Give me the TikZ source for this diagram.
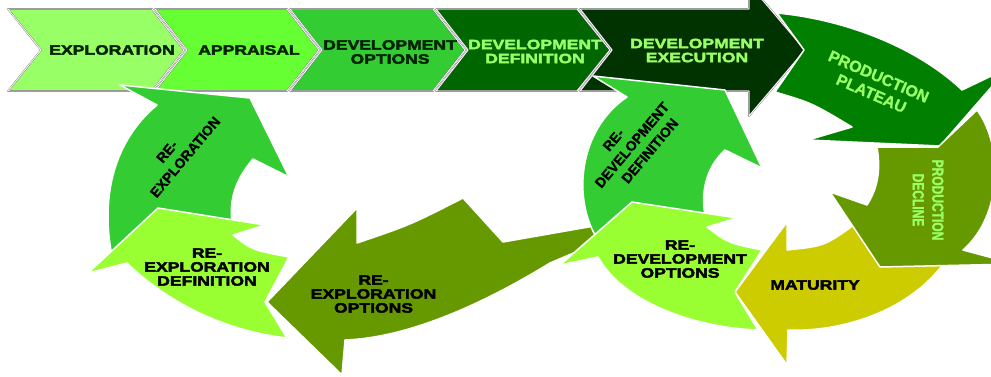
\documentclass[tikz,border=0pt]{standalone}
\usepackage{fontspec}
\setmainfont{Liberation Sans}
\newfontfamily\blackfont{Liberation Sans}[UprightFont={* Bold}, FakeStretch=1.3, FakeBold=3]
\newfontfamily\boldfont{Liberation Sans}[UprightFont={* Bold}, FakeBold=1.2]
\newfontfamily\narrowfont{Liberation Sans}[UprightFont={* Bold}, FakeStretch=0.75, FakeBold=1.2]
\definecolor{cExpl}{HTML}{99FF66}
\definecolor{cAppr}{HTML}{66FF33}
\definecolor{cMid}{HTML}{33CC33}
\definecolor{cDef}{HTML}{006600}
\definecolor{cExec}{HTML}{003300}
\definecolor{cPlat}{HTML}{007F00}
\definecolor{cOlive}{HTML}{669900}
\definecolor{cMat}{HTML}{CCCC00}
\definecolor{cLime}{HTML}{99FF33}
\definecolor{cDark}{HTML}{002200}
\definecolor{cLight}{HTML}{99FF66}
\begin{document}
\begin{tikzpicture}[x=1pt,y=-1pt,
  chev/.style={fill=#1, draw=black!60, double=white, double distance=0.9pt, line width=0.35pt, line join=round},
  cyc/.style={fill=#1, draw=white, line width=1.5pt, line join=round},
  blk/.style={font={\blackfont\fontsize{13.5}{14}\selectfont}, align=center, inner sep=0pt},
  rbold/.style={font={\boldfont\fontsize{14}{17.5}\selectfont}, align=center, inner sep=0pt},
  plat/.style={font={\boldfont\fontsize{16}{18.5}\selectfont}, align=center, inner sep=0pt},
  narrow/.style={font={\narrowfont\fontsize{16}{19.5}\selectfont}, align=center, inner sep=0pt}]
\useasboundingbox (0,0) rectangle (991,376);
\clip (0,0) rectangle (991,376);

% top chevrons
\path[chev=cExpl] (8,9) -- (152,9) -- (184,50) -- (152,91) -- (8,91) -- (41,50) -- cycle;
\path[chev=cAppr] (155,9) -- (287,9) -- (319,50) -- (287,91) -- (155,91) -- (187,50) -- cycle;
\path[chev=cMid] (290,9) -- (433,9) -- (465,50) -- (433,91) -- (290,91) -- (322,50) -- cycle;
\path[chev=cDef] (436,9) -- (577,9) -- (610,50) -- (577,91) -- (436,91) -- (468,50) -- cycle;
\path[chev=cExec] (580,9) -- (749,9) -- (749,-16) -- (805,50) -- (749,116) -- (749,91) -- (580,91) -- (612,50) -- cycle;

% right cycle
\path[cyc=cPlat] (777,13) .. controls (850,20) and (920,50) .. (962,90) -- (1008,68) -- (940,146) -- (808,140) -- (852,127) .. controls (812,103) .. (775,92) -- (804,50) -- cycle;
\path[cyc=cMat] (735,292) -- (787,222) -- (787,250) .. controls (825,246) .. (858,222) -- (880,263) -- (944,263) .. controls (903,318) and (830,332) .. (788,330) -- (787,365) -- cycle;
\path[cyc=cOlive] (877,147) -- (938,147) -- (977,110) .. controls (1003,145) and (1003,215) .. (963,250) -- (1015,264) -- (880,267) -- (830,192) -- (867,205) .. controls (880,185) and (880,165) .. (877,147) -- cycle;

% long olive arrow
\path[cyc=cOlive] (267,302) -- (357,208) -- (357,243) .. controls (410,225) .. (463,198) -- (503,242) -- (600,225) -- (604,240) -- (550,263) .. controls (470,312) and (400,338) .. (345,340) -- (342,375) -- cycle;

% re-development
\path[cyc=cMid] (627,97) -- (593,76) -- (725,90) -- (762,168) -- (725,150) .. controls (705,168) and (700,195) .. (706,220) -- (598,240) .. controls (572,200) and (578,130) .. (627,97) -- cycle;
\path[cyc=cLime] (598,257) -- (560,265) -- (632,202) -- (737,218) -- (707,227) .. controls (728,243) .. (762,250) -- (735,292) -- (758,330) .. controls (700,328) and (625,305) .. (598,257) -- cycle;

% re-exploration
\path[cyc=cMid] (112,256) .. controls (100,195) and (115,140) .. (157,105) -- (120,85) -- (250,98) -- (289,177) -- (253,159) .. controls (235,180) and (229,200) .. (232,224) -- cycle;
\path[cyc=cLime] (127,263) -- (88,273) -- (158,208) -- (265,225) -- (233,235) .. controls (252,250) .. (289,257) -- (265,302) -- (287,338) .. controls (220,330) and (165,300) .. (127,263) -- cycle;

% labels
\node[blk, text=cDark] (tExpl) at (112,50) {EXPLORATION};
\node[blk, text=cDark] (tAppr) at (249,50) {APPRAISAL};
\node[blk, text=cDark] (tOpt) at (390,52) {DEVELOPMENT\\OPTIONS};
\node[blk, text=cLight] (tDef) at (535,51.5) {DEVELOPMENT\\DEFINITION};
\node[blk, text=cLight] (tExec) at (697,50.5) {DEVELOPMENT\\EXECUTION};
\node[plat, text=cLight, rotate=-23.5] (tPlat) at (875,85) {PRODUCTION\\PLATEAU};
\node[narrow, text=cLight, rotate=-90] (tDecl) at (928,200) {PRODUCTION\\DECLINE};
\node[blk, text=black] (tMat) at (815,285) {MATURITY};
\node[blk, text=black] (tRdo) at (680,259) {RE-\\DEVELOPMENT\\OPTIONS};
\node[rbold, text=black, rotate=50] (tRdd) at (632,145) {RE-\hspace*{16pt}\\DEVELOPMENT\\\hspace*{14pt}DEFINITION};
\node[blk, text=black] (tReo) at (373.5,294) {RE-\\EXPLORATION\\OPTIONS};
\node[blk, text=black] (tRed) at (207,267) {RE-\\EXPLORATION\\DEFINITION};
\node[rbold, text=black, rotate=50] (tRe) at (178.5,151.5) {RE-\hspace*{15pt}\\EXPLORATION};
\end{tikzpicture}
\end{document}
